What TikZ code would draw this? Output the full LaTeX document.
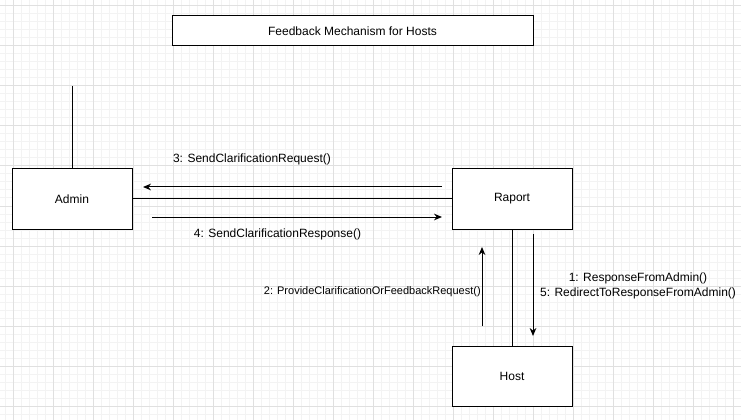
\documentclass[tikz,border=0pt]{standalone}
\usepackage{fontspec}
\setmainfont{Liberation Sans}
\usepackage{xcolor}
\usetikzlibrary{arrows.meta}
\definecolor{gridminor}{HTML}{F3F3F3}
\definecolor{gridmajor}{HTML}{E0E0E0}
\tikzset{
  box/.style={draw=black, fill=white, line width=0.75pt, minimum width=90pt, minimum height=45pt, inner sep=0pt, font=\fontsize{9}{11}\selectfont},
  link/.style={black, line width=0.75pt},
  msg/.style={link, -{Stealth[length=6pt,width=5pt]}},
  lbl/.style={inner sep=0pt, font=\fontsize{9}{11.25}\selectfont}
}

\begin{document}
\begin{tikzpicture}[x=0.75pt,y=-0.75pt]
\useasboundingbox[fill=white] (0,0) rectangle (741,420);

\foreach \x in {5,13,...,741} \draw[gridminor,line width=0.75pt] (\x,0) -- (\x,420);
\foreach \y in {6,14,...,420} \draw[gridminor,line width=0.75pt] (0,\y) -- (741,\y);
\foreach \x in {13,53,...,733} \draw[gridmajor,line width=0.75pt] (\x,0) -- (\x,420);
\foreach \y in {6,46,...,406} \draw[gridmajor,line width=0.75pt] (0,\y) -- (741,\y);

\node[box, minimum width=270.75pt, minimum height=22.5pt] (title) at (352.5,31) {Feedback Mechanism for Hosts};

\node[box] (admin) at (72,199) {Admin};
\node[box] (raport) at (512,199) {Raport};
\node[box] (host) at (512,376) {Host};

\coordinate (admtop) at (72,86);
\draw[link] (admtop) -- (admin.north);
\draw[link] (admin.east) -- (raport.west);
\draw[link] (raport.south) -- (host.north);

\coordinate (m3a) at (442,187);
\coordinate (m3b) at (143,187);
\coordinate (m4a) at (152,217);
\coordinate (m4b) at (442,217);
\coordinate (m2a) at (482,326);
\coordinate (m2b) at (482,247);
\coordinate (m1a) at (533,234);
\coordinate (m1b) at (533,336);

\draw[msg] (m3a) -- (m3b);
\draw[msg] (m4a) -- (m4b);
\draw[msg] (m2a) -- (m2b);
\draw[msg] (m1a) -- (m1b);

\node[lbl] (l3) at (252,159) {3: SendClarificationRequest()};
\node[lbl] (l4) at (277.5,234) {4: SendClarificationResponse()};
\node[lbl, anchor=east, font=\fontsize{8.25}{10}\selectfont] (l2) at (481,292) {2: ProvideClarificationOrFeedbackRequest()};
\node[lbl, align=center] (l15) at (638,285.5) {1: ResponseFromAdmin()\\5: RedirectToResponseFromAdmin()};
\end{tikzpicture}
\end{document}
